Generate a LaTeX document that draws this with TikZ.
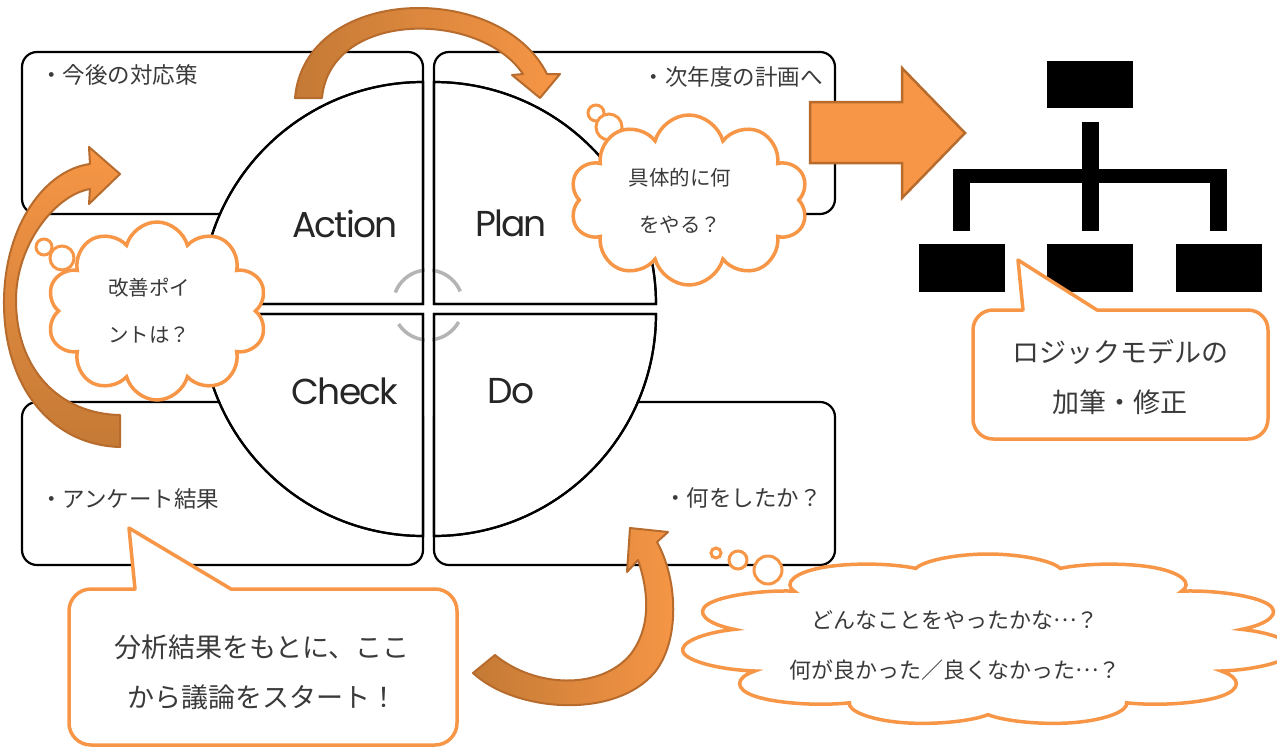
\documentclass[tikz,border=0pt]{standalone}
\usepackage{fontspec}
\newfontfamily\jp{Noto Sans CJK JP}
\newfontfamily\pop{Poppins}[LetterSpace=-5]
\usetikzlibrary{shapes.symbols}
\definecolor{org}{HTML}{F79646}
\definecolor{orgdark}{HTML}{C47A35}
\definecolor{orgline}{HTML}{B76B2D}
\definecolor{txt}{HTML}{3A3A3A}
\definecolor{arcgray}{HTML}{B4B4B4}
\newcommand\middots{\raisebox{0.3em}{…}}
\tikzset{
 pbox/.style={draw=black, line width=2.2pt, rounded corners=15pt, fill=white, inner sep=0pt},
 sector/.style={draw=black, line width=2.2pt, fill=white},
 sectorline/.style={draw=black, line width=2.2pt},
 cyc/.style={draw=arcgray, line width=3.5pt},
 plabel/.style={font=\pop\fontsize{36}{36}\selectfont, text=black!85, inner sep=0pt},
 btext/.style={font=\jp\fontsize{22.5}{27}\selectfont, text=txt, inner sep=0pt},
 curarrow/.style={draw=orgline, line width=2pt, line join=round},
 blockarrow/.style={fill=org, draw=orgline, line width=2.5pt, line join=miter},
 orgbox/.style={fill=black, inner sep=0pt},
 cloudbox/.style={cloud, cloud puffs=10, cloud ignores aspect, draw=org, fill=white, line width=3.5pt, inner sep=0pt},
 thought/.style={draw=org, fill=white, line width=3pt},
 callout/.style={draw=org, fill=white, line width=3.5pt, line join=round},
 ctext/.style={font=\jp\fontsize{20.5}{47}\selectfont, text=txt, align=center, inner sep=0pt},
 bigtext/.style={font=\jp\fontsize{27}{50}\selectfont, text=txt, align=center, inner sep=0pt},
}
\begin{document}
\begin{tikzpicture}[x=1pt,y=-1pt]
\useasboundingbox (0,0) rectangle (1277,747);

% corner boxes
\node[pbox, minimum width=401pt, minimum height=162pt] (boxTL) at (222.5,133) {};
\node[pbox, minimum width=401pt, minimum height=162pt] (boxTR) at (634.5,133) {};
\node[pbox, minimum width=401pt, minimum height=163pt] (boxBL) at (222.5,483.5) {};
\node[pbox, minimum width=401pt, minimum height=163pt] (boxBR) at (634.5,483.5) {};

% sectors
\path[sector] (423,304) -- (201,304) arc[start angle=180,end angle=270,radius=222] -- cycle;
\path[sector] (434,304) -- (434,82) arc[start angle=270,end angle=360,radius=222] -- cycle;
\path[sector] (423,314) -- (201,314) arc[start angle=180,end angle=90,radius=222] -- cycle;
\path[sector] (434,314) -- (656,314) arc[start angle=0,end angle=90,radius=222] -- cycle;

% gray cycle arcs
\draw[cyc] (428,305) ++(201:35) arc[start angle=201,end angle=337,radius=35];
\draw[cyc] (428,305) ++(147:35) arc[start angle=147,end angle=29,radius=35];
\fill[white] (424.6,262) rectangle (432.4,350);
\fill[white] (385,305.6) rectangle (472,312.4);
\path[sectorline] (423,304) -- (201,304) arc[start angle=180,end angle=270,radius=222] -- cycle;
\path[sectorline] (434,304) -- (434,82) arc[start angle=270,end angle=360,radius=222] -- cycle;
\path[sectorline] (423,314) -- (201,314) arc[start angle=180,end angle=90,radius=222] -- cycle;
\path[sectorline] (434,314) -- (656,314) arc[start angle=0,end angle=90,radius=222] -- cycle;

% sector labels
\node[plabel] (lAction) at (345,224) {Action};
\node[plabel] (lPlan) at (511,223) {Plan};
\node[plabel] (lCheck) at (345,391) {Check};
\node[plabel] (lDo) at (511,391) {Do};

% box texts
\node[btext, anchor=west] (tTL) at (40,75) {・今後の対応策};
\node[btext, anchor=east] (tTR) at (823,77) {・次年度の計画へ};
\node[btext, anchor=west] (tBL) at (40,499) {・アンケート結果};
\node[btext, anchor=east] (tBR) at (822,498) {・何をしたか？};

% curved arrows
\path[curarrow, left color=orgdark, right color=org]
  (295,98) -- (322,98) .. controls (330,10) and (480,10) .. (523,74)
  -- (512,75) -- (540,98) -- (560,74) -- (547,74)
  .. controls (500,-20) and (305,-15) .. (295,98) -- cycle;
\path[curarrow, top color=org, bottom color=orgdark]
  (120,447) .. controls (50,445) and (3,385) .. (4,300)
  .. controls (5,225) and (45,170) .. (90,164)
  -- (89,147) -- (120,174) -- (89,204) -- (90,189)
  .. controls (55,195) and (16,245) .. (16,300)
  .. controls (16,370) and (60,414) .. (120,415) -- cycle;
\path[curarrow, left color=orgdark, right color=org]
  (473,673) .. controls (515,712) and (615,720) .. (655,672)
  .. controls (680,640) and (678,580) .. (657,542)
  -- (668,532) -- (630,528) -- (627,572) -- (638,560)
  .. controls (650,595) and (650,630) .. (630,655)
  .. controls (600,690) and (535,688) .. (495,655) -- cycle;

% block arrow
\path[blockarrow] (810,102) -- (902,102) -- (902,68) -- (965,133) -- (902,198) -- (902,163) -- (810,163) -- cycle;

% logic model chart
\node[orgbox, minimum width=86pt, minimum height=47pt] (lmTop) at (1090,84.5) {};
\node[orgbox, minimum width=86pt, minimum height=48pt] (lmL) at (962,268) {};
\node[orgbox, minimum width=86pt, minimum height=48pt] (lmM) at (1090,268) {};
\node[orgbox, minimum width=86pt, minimum height=48pt] (lmR) at (1219,268) {};
\fill (1082,122) rectangle (1099,231);
\fill (953,169) rectangle (1227,183);
\fill (953,169) rectangle (970,231);
\fill (1210,169) rectangle (1227,231);

% thought bubbles
\draw[thought] (596,113) circle[radius=8];
\draw[thought] (609,127) circle[radius=13];
\node[cloudbox, minimum width=238pt, minimum height=170pt] (cPlan) at (689,200) {};
\node[ctext] (tPlan) at (680,201) {具体的に何\\をやる？};

\draw[thought] (44,247) circle[radius=8];
\draw[thought] (62,258) circle[radius=12];
\node[cloudbox, minimum width=220pt, minimum height=178pt] (cAct) at (157,311) {};
\node[ctext] (tAct) at (149,311) {改善ポイ\\ントは？};

\draw[thought] (716,553) circle[radius=5];
\draw[thought] (738,560) circle[radius=9];
\draw[thought] (768,570) circle[radius=14];
\begin{scope}[shift={(988,640)}, xscale=3.85]
\node[cloudbox, cloud puffs=11, transform shape, minimum width=160pt, minimum height=172pt] (cDo) at (0,0) {};
\end{scope}
\node[ctext, font=\jp\fontsize{22}{50}\selectfont] (tDo) at (955,645) {どんなことをやったかな\middots？\\何が良かった／良くなかった\middots？};

% callout: logic model
\path[callout] (1097,310) -- (1248,310) arc[start angle=270,end angle=360,radius=20]
  -- (1268,419) arc[start angle=0,end angle=90,radius=20]
  -- (993,439) arc[start angle=90,end angle=180,radius=20]
  -- (973,330) arc[start angle=180,end angle=270,radius=20]
  -- (1023,310) -- (1018,260) -- cycle;
\node[bigtext] (tLogic) at (1120,377) {ロジックモデルの\\加筆・修正};

% callout: analysis
\path[callout] (231,589) -- (435,589) arc[start angle=270,end angle=360,radius=22]
  -- (457,723) arc[start angle=0,end angle=90,radius=22]
  -- (91,745) arc[start angle=90,end angle=180,radius=22]
  -- (69,611) arc[start angle=180,end angle=270,radius=22]
  -- (135,589) -- (129,528) -- cycle;
\node[bigtext] (tStart) at (262,672) {分析結果をもとに、ここ\\から議論をスタート！};
\end{tikzpicture}
\end{document}
